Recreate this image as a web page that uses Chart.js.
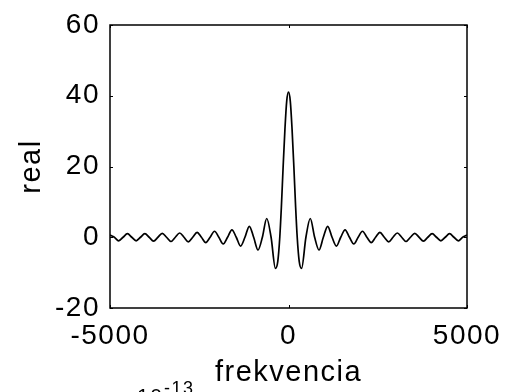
<!DOCTYPE html>
<html>
<head>
<meta charset="utf-8">
<script src="https://cdn.jsdelivr.net/npm/chart.js@4"></script>
<style>
  html, body { margin: 0; padding: 0; background: #fff; }
  canvas { display: block; }
</style>
</head>
<body>
<canvas id="c" width="506" height="392"></canvas>
<script>
// frequency axis (Hz) and the real part
const freqHz = [
  -5000, -4878, -4756, -4634, -4512, -4390, -4268, -4146, -4024, -3902,
  -3780, -3658, -3537, -3415, -3293, -3171, -3049, -2927, -2805, -2683,
  -2561, -2439, -2317, -2195, -2073, -1951, -1829, -1707, -1585, -1463,
  -1341, -1220, -1098, -976, -854, -732, -610, -488, -366, -300,
  -244, -200, -150, -100, -50, 0,
  50, 100, 150, 200, 244,
  300, 366, 488, 610, 732, 854, 976, 1098, 1220, 1341,
  1463, 1585, 1707, 1829, 1951, 2073, 2195, 2317, 2439, 2561,
  2683, 2805, 2927, 3049, 3171, 3293, 3415, 3537, 3658, 3780,
  3902, 4024, 4146, 4268, 4390, 4512, 4634, 4756, 4878, 5000
];
const realPart = [
  0.6, 0, -1.0, 0, 1.0, 0, -1.0, 0, 1.0, 0,
  -1.1, 0, 1.1, 0, -1.2, 0, 1.2, 0, -1.3, 0,
  1.4, 0, -1.5, 0, 1.7, 0, -1.9, 0, 2.1, 0,
  -2.5, 0, 3.1, 0, -3.6, 0, 5.3, 0, -8.8, -6.8,
  0, 8.5, 20, 30.5, 38.5, 41,
  38.5, 30.5, 20, 8.5, 0,
  -6.8, -8.8, 0, 5.3, 0, -3.6, 0, 3.1, 0, -2.5,
  0, 2.1, 0, -1.9, 0, 1.7, 0, -1.5, 0, 1.4,
  0, -1.3, 0, 1.2, 0, -1.2, 0, 1.1, 0, -1.1,
  0, 1.0, 0, -1.0, 0, 1.0, 0, -1.0, 0, 0.6
];
const xTicks = [-5000, 0, 5000];
const yTicks = [-20, 0, 20, 40, 60];

const FONT = 'Liberation Sans';

// the old bitmap font was a bit wider than Arial
const spacingPlugin = {
  id: 'spacing',
  beforeInit(chart) { chart.ctx.letterSpacing = '1.5px'; },
  beforeDraw(chart) { chart.ctx.letterSpacing = '1.5px'; }
};

// box around the axes, short inward ticks, and the clipped exponent label below
const framePlugin = {
  id: 'frame',
  afterDraw(chart) {
    const { ctx, chartArea: a, scales } = chart;
    ctx.save();
    ctx.strokeStyle = '#000';
    ctx.lineWidth = 1.5;
    ctx.strokeRect(a.left, a.top, a.right - a.left, a.bottom - a.top);
    ctx.lineWidth = 1;
    xTicks.forEach(v => {
      const px = Math.round(scales.x.getPixelForValue(v)) + 0.5;
      ctx.beginPath();
      ctx.moveTo(px, a.top); ctx.lineTo(px, a.top + 3);
      ctx.moveTo(px, a.bottom); ctx.lineTo(px, a.bottom - 3);
      ctx.stroke();
    });
    yTicks.forEach(v => {
      const py = Math.round(scales.y.getPixelForValue(v)) + 0.5;
      ctx.beginPath();
      ctx.moveTo(a.left, py); ctx.lineTo(a.left + 3, py);
      ctx.moveTo(a.right, py); ctx.lineTo(a.right - 3, py);
      ctx.stroke();
    });
    ctx.fillStyle = '#000';
    ctx.textBaseline = 'alphabetic';
    ctx.font = '21px "' + FONT + '"';
    ctx.fillText('10', 137, 403);
    ctx.font = '18px "' + FONT + '"';
    ctx.fillText('-13', 164, 394);
    ctx.restore();
  }
};

new Chart(document.getElementById('c'), {
  type: 'line',
  data: {
    datasets: [{
      data: freqHz.map((f, i) => ({ x: f, y: realPart[i] })),
      borderColor: '#000',
      borderWidth: 1.7,
      pointRadius: 0,
      fill: false,
      cubicInterpolationMode: 'monotone'
    }]
  },
  options: {
    responsive: false,
    animation: false,
    devicePixelRatio: 1,
    layout: { padding: { top: 25, right: 39, left: 0, bottom: 0 } },
    plugins: { legend: { display: false }, tooltip: { enabled: false } },
    scales: {
      x: {
        type: 'linear',
        min: -5000, max: 5000,
        afterBuildTicks: s => { s.ticks = xTicks.map(v => ({ value: v })); },
        afterFit: s => { s.height = 84; s.paddingLeft = 0; s.paddingRight = 0; },
        grid: { display: false, drawTicks: false },
        border: { display: false },
        ticks: {
          color: '#000', padding: 11,
          font: { family: FONT, size: 28 },
          callback: v => String(v)
        },
        title: {
          display: true, text: 'frekvencia', color: '#000',
          font: { family: FONT, size: 29, lineHeight: 1 },
          padding: { top: 0, bottom: 5 }
        }
      },
      y: {
        min: -20, max: 60,
        afterBuildTicks: s => { s.ticks = yTicks.map(v => ({ value: v })); },
        afterFit: s => { s.width = 110; s.paddingTop = 0; s.paddingBottom = 0; },
        grid: { display: false, drawTicks: false },
        border: { display: false },
        ticks: {
          color: '#000', padding: 10,
          font: { family: FONT, size: 28 },
          callback: v => String(v)
        },
        title: {
          display: true, text: 'real', color: '#000',
          font: { family: FONT, size: 29, lineHeight: 1 },
          padding: { top: 17, bottom: 0 }
        }
      }
    }
  },
  plugins: [spacingPlugin, framePlugin]
});
</script>
</body>
</html>
